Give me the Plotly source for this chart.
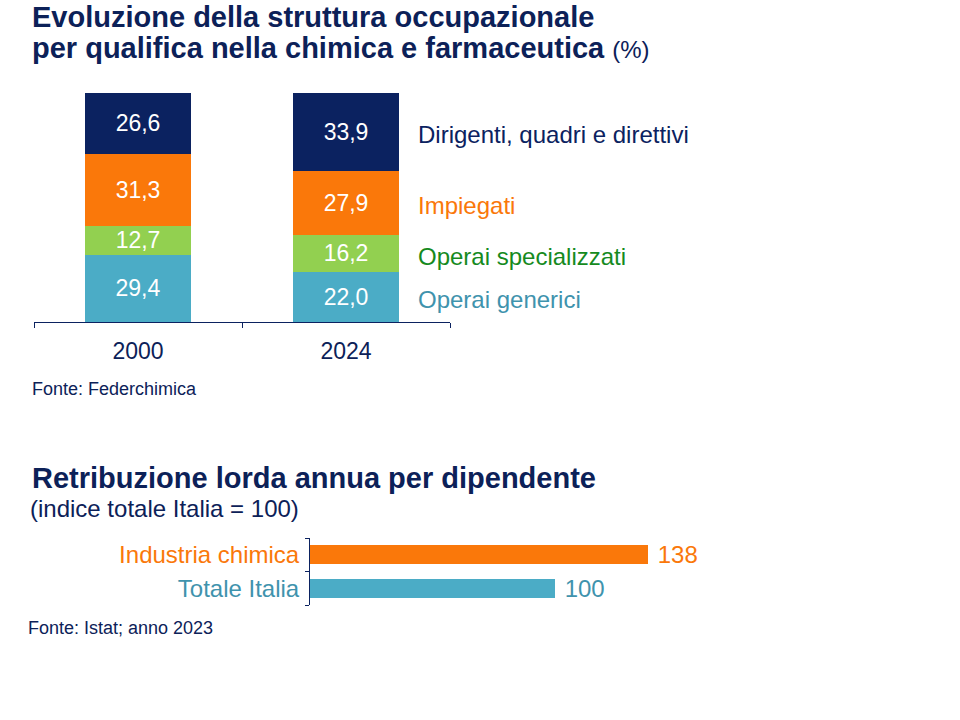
import plotly.graph_objects as go

# ---- Data: top chart (stacked %) ----
years = ["2000", "2024"]
series_names = ["Operai generici", "Operai specializzati", "Impiegati", "Dirigenti, quadri e direttivi"]
operai_generici = [29.4, 22.0]
operai_specializzati = [12.7, 16.2]
impiegati = [31.3, 27.9]
dirigenti = [26.6, 33.9]

# ---- Data: bottom chart ----
bottom_categories = ["Industria chimica", "Totale Italia"]
bottom_values = [138, 100]

NAVY = "#0b2260"
ORANGE = "#fa780a"
GREEN = "#92d050"
BLUE = "#4bacc6"
LABEL_GREEN = "#168a1e"
LABEL_BLUE = "#3f93ad"
TEXT = "#0c2158"
FONT = "Liberation Sans, Arial, sans-serif"

W, H = 960, 720
def px(x):
    return x / W
def py(y):
    return 1 - y / H

fig = go.Figure()

series_values = [operai_generici, operai_specializzati, impiegati, dirigenti]
bar_colors = [BLUE, GREEN, ORANGE, NAVY]
label_colors = [LABEL_BLUE, LABEL_GREEN, ORANGE, NAVY]

for name, vals, col in zip(series_names, series_values, bar_colors):
    fig.add_trace(go.Bar(
        x=years, y=vals, name=name, marker=dict(color=col, line=dict(width=0)),
        texttemplate="%{y:.1f}", textposition="inside", insidetextanchor="middle",
        constraintext="none",
        textfont=dict(color="white", size=23, family=FONT),
        xaxis="x", yaxis="y", showlegend=False,
    ))

fig.add_trace(go.Bar(
    x=bottom_values, y=bottom_categories, orientation="h",
    marker=dict(color=[ORANGE, BLUE], line=dict(width=0)),
    texttemplate="\u00a0%{x}", textposition="outside", constraintext="none",
    textfont=dict(color=[ORANGE, LABEL_BLUE], size=24, family=FONT),
    cliponaxis=False, width=0.57,
    xaxis="x2", yaxis="y2", showlegend=False,
))

annotations = []
# series labels next to 2024 bar, aligned with segment centres
cum = 0
for name, vals, col in zip(series_names, series_values, label_colors):
    mid = cum + vals[1] / 2
    cum += vals[1]
    annotations.append(dict(
        text=name, x=px(416), xref="paper", y=mid, yref="y", yshift=-3,
        xanchor="left", yanchor="middle", showarrow=False,
        font=dict(size=24, color=col, family=FONT),
    ))

def note(text, x, y, size, bold=False):
    return dict(text=f"<b>{text}</b>" if bold else text, x=px(x), y=py(y), xref="paper", yref="paper",
                xanchor="left", yanchor="middle", showarrow=False, align="left",
                font=dict(size=size, color=TEXT, family=FONT))

annotations += [
    note("Evoluzione della struttura occupazionale", 30, 17, 29, True),
    note("<b>per qualifica nella chimica e farmaceutica</b> <span style='font-size:24px'>(%)</span>", 30, 48, 29),
    note("Fonte: Federchimica", 30, 389, 18),
    note("Retribuzione lorda annua per dipendente", 30, 478, 29, True),
    note("(indice totale Italia = 100)", 28, 508, 24),
    note("Fonte: Istat; anno 2023", 26, 628, 18),
]

fig.update_layout(
    width=W, height=H, margin=dict(l=0, r=0, t=0, b=0),
    paper_bgcolor="white", plot_bgcolor="white",
    barmode="stack", bargap=0.495, separators=",.",
    font=dict(family=FONT, color=TEXT),
    xaxis=dict(domain=[px(34), px(450)], type="category", showline=True, linecolor=NAVY, linewidth=1,
               ticks="outside", tickson="boundaries", ticklen=5, tickcolor=NAVY, showgrid=False,
               tickfont=dict(size=23, color=TEXT, family=FONT), ticklabelstandoff=8,
               anchor="y", fixedrange=True),
    yaxis=dict(domain=[py(322), py(93)], range=[0, 100], visible=False, anchor="x", fixedrange=True),
    xaxis2=dict(domain=[px(310), px(800)], range=[0, 200], visible=False, anchor="y2", fixedrange=True),
    yaxis2=dict(domain=[py(605), py(538)], type="category", autorange="reversed", showline=True,
                linecolor=NAVY, linewidth=1, ticks="outside", tickson="boundaries", ticklen=4,
                tickcolor=NAVY, showgrid=False, anchor="x2",
                tickvals=bottom_categories,
                ticktext=[f"<span style='color:{ORANGE}'>{bottom_categories[0]}</span>",
                          f"<span style='color:{LABEL_BLUE}'>{bottom_categories[1]}</span>"],
                tickfont=dict(size=24, family=FONT), ticklabelstandoff=5, fixedrange=True),
    annotations=annotations,
)

fig.write_html("out.html")
